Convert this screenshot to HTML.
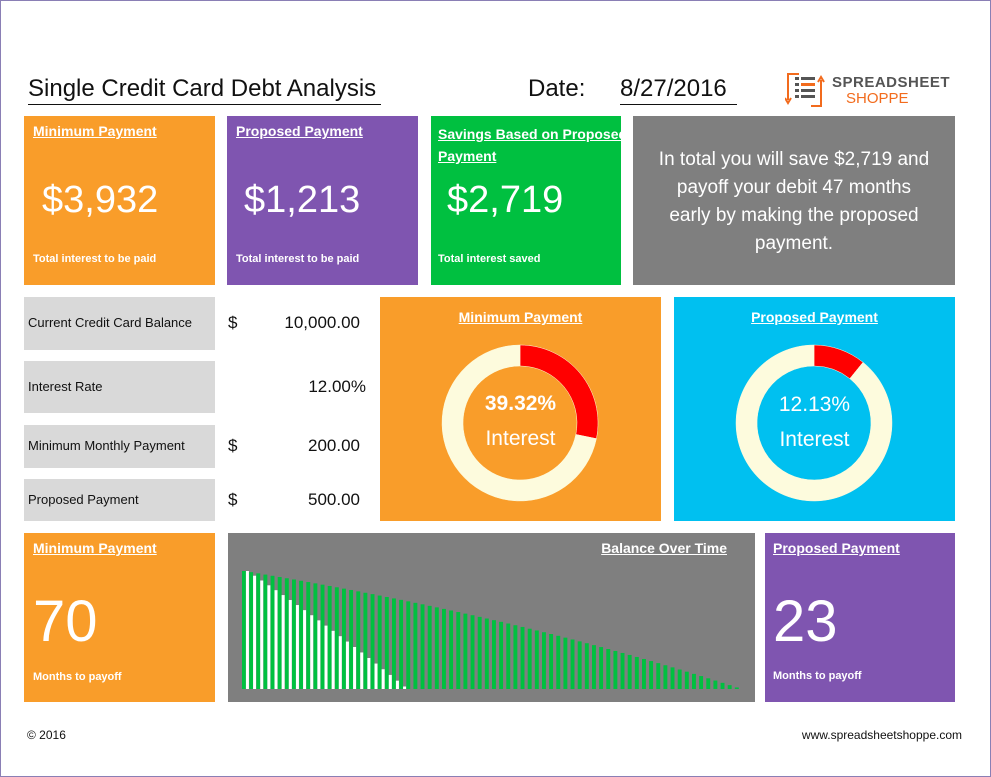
<!DOCTYPE html>
<html><head><meta charset="utf-8"><style>
body{margin:0;width:991px;height:777px;background:#fff;position:relative;overflow:hidden;font-family:"Liberation Sans",sans-serif}
.frame{position:absolute;left:0;top:0;width:989px;height:775px;border:1px solid #8a7fb5}
.b{position:absolute;color:#fff}
.h{font-weight:bold;font-size:14px;text-decoration:underline;position:absolute}
.small{font-weight:bold;font-size:11px;position:absolute}
.big{position:absolute;font-size:38px}
.lbl{position:absolute;left:24px;width:191px;background:#d9d9d9;font-size:13px;color:#111}
.lbl span{position:absolute;left:4px}
.val{position:absolute;font-size:17px;color:#111}
</style></head><body>
<div class="frame"></div>
<div style="position:absolute;left:28px;top:75px;font-size:24px;color:#111;border-bottom:1.5px solid #111;padding-bottom:1px;width:353px">Single Credit Card Debt Analysis</div>
<div style="position:absolute;left:528px;top:75px;font-size:24px;color:#111">Date:</div>
<div style="position:absolute;left:620px;top:75px;font-size:24px;color:#111;border-bottom:1.5px solid #111;padding-bottom:1px;width:117px">8/27/2016</div>
<div style="position:absolute;left:785px;top:72px;width:180px;height:36px">
<svg width="40" height="36" style="position:absolute;left:0;top:0"><path d="M14 2H3V28" stroke="#f26b1d" stroke-width="2" fill="none"/><path d="M26 34H36V8" stroke="#f26b1d" stroke-width="2" fill="none"/><path d="M0 26L3 31L6 26M33 10L36 5L39 10" stroke="#f26b1d" stroke-width="2" fill="none"/><g fill="#555"><rect x="10" y="5" width="4" height="3"/><rect x="16" y="5" width="14" height="3"/><rect x="10" y="11" width="4" height="3"/><rect x="16" y="11" width="14" height="3" fill="#f26b1d"/><rect x="10" y="17" width="4" height="3"/><rect x="16" y="17" width="14" height="3"/><rect x="10" y="23" width="4" height="3"/><rect x="16" y="23" width="14" height="3"/></g></svg>
<div style="position:absolute;left:47px;top:2px;font-size:15px;color:#555;font-weight:bold;letter-spacing:.5px">SPREADSHEET</div>
<div style="position:absolute;left:61px;top:18px;font-size:15px;color:#f26b1d">SHOPPE</div></div>

<div class="b" style="left:24px;top:116px;width:191px;height:169px;background:#f99d2a">
<div class="h" style="left:9px;top:7px">Minimum Payment</div><div class="big" style="left:18px;top:63px">$3,932</div><div class="small" style="left:9px;top:137px">Total interest to be paid</div></div>
<div class="b" style="left:227px;top:116px;width:191px;height:169px;background:#7f55b0">
<div class="h" style="left:9px;top:7px">Proposed Payment</div><div class="big" style="left:17px;top:63px">$1,213</div><div class="small" style="left:9px;top:137px">Total interest to be paid</div></div>
<div class="b" style="left:431px;top:116px;width:190px;height:169px;background:#00c040;overflow:hidden">
<div class="h" style="left:7px;top:7px;width:240px;line-height:22px">Savings Based on Proposed<br>Payment</div><div class="big" style="left:16px;top:63px">$2,719</div><div class="small" style="left:7px;top:137px">Total interest saved</div></div>
<div class="b" style="left:633px;top:116px;width:322px;height:169px;background:#7f7f7f">
<div style="position:absolute;left:0;width:322px;top:30px;text-align:center;font-size:19px;line-height:28px">In total you will save $2,719 and<br>payoff your debit 47 months<br>early by making the proposed<br>payment.</div></div>

<div class="lbl" style="top:297px;height:53px"><span style="top:18px">Current Credit Card Balance</span></div>
<div class="lbl" style="top:361px;height:52px"><span style="top:18px">Interest Rate</span></div>
<div class="lbl" style="top:425px;height:43px"><span style="top:13px">Minimum Monthly Payment</span></div>
<div class="lbl" style="top:479px;height:42px"><span style="top:13px">Proposed Payment</span></div>
<div class="val" style="left:228px;top:313px">$</div>
<div class="val" style="left:280px;top:313px;width:80px;text-align:right">10,000.00</div>
<div class="val" style="left:280px;top:377px;width:86px;text-align:right">12.00%</div>
<div class="val" style="left:228px;top:436px">$</div>
<div class="val" style="left:280px;top:436px;width:80px;text-align:right">200.00</div>
<div class="val" style="left:228px;top:490px">$</div>
<div class="val" style="left:280px;top:490px;width:80px;text-align:right">500.00</div>

<div class="b" style="left:380px;top:297px;width:281px;height:224px;background:#f99d2a">
<div class="h" style="left:0;width:281px;text-align:center;top:12px;text-decoration:none"><span style="text-decoration:underline">Minimum Payment</span></div>
<svg id="d1" width="281" height="224" style="position:absolute;left:0;top:0"></svg>
<div style="position:absolute;left:0;width:281px;top:95px;text-align:center;font-size:21px;font-weight:bold">39.32%</div>
<div style="position:absolute;left:0;width:281px;top:130px;text-align:center;font-size:21px">Interest</div></div>
<div class="b" style="left:674px;top:297px;width:281px;height:224px;background:#00c0f0">
<div class="h" style="left:0;width:281px;text-align:center;top:12px;text-decoration:none"><span style="text-decoration:underline">Proposed Payment</span></div>
<svg id="d2" width="281" height="224" style="position:absolute;left:0;top:0"></svg>
<div style="position:absolute;left:0;width:281px;top:96px;text-align:center;font-size:21px">12.13%</div>
<div style="position:absolute;left:0;width:281px;top:131px;text-align:center;font-size:21px">Interest</div></div>

<div class="b" style="left:24px;top:533px;width:191px;height:169px;background:#f99d2a">
<div class="h" style="left:9px;top:7px">Minimum Payment</div><div style="position:absolute;left:9px;top:55px;font-size:58px">70</div><div class="small" style="left:9px;top:138px">Months to payoff</div></div>
<div class="b" style="left:228px;top:533px;width:527px;height:169px;background:#7f7f7f">
<div class="h" style="right:28px;top:7px">Balance Over Time</div>
<svg id="bars" width="527" height="169" style="position:absolute;left:0;top:0"></svg></div>
<div class="b" style="left:765px;top:533px;width:190px;height:169px;background:#7f55b0">
<div class="h" style="left:8px;top:7px">Proposed Payment</div><div style="position:absolute;left:8px;top:55px;font-size:58px">23</div><div class="small" style="left:8px;top:137px">Months to payoff</div></div>

<div style="position:absolute;left:27px;top:728px;font-size:12px;color:#111">© 2016</div>
<div style="position:absolute;right:29px;top:728px;font-size:12px;color:#111">www.spreadsheetshoppe.com</div>

<script>
const donutLabels=["Interest","Principal"];
const minDonut=[3932,10000];
const propDonut=[1213,10000];
const minBalance=[10000,9900,9799,9697,9594,9490,9385,9279,9171,9063,8954,8843,8732,8619,8505,8390,8274,8157,8039,7919,7798,7676,7553,7428,7303,7176,7047,6918,6787,6655,6522,6387,6251,6113,5974,5834,5692,5549,5405,5259,5111,4962,4812,4660,4507,4352,4195,4037,3878,3717,3554,3389,3223,3055,2886,2715,2542,2367,2191,2013,1833,1651,1468,1283,1095,906,715,523,328,131];
const propBalance=[10000,9600,9196,8788,8376,7960,7540,7116,6684,6252,5816,5372,4928,4476,4020,3560,3096,2628,2156,1676,1192,704,212];
const NS="http://www.w3.org/2000/svg";
function donut(id,vals){
 const svg=document.getElementById(id);const cx=140,cy=126,R=78,r=57;
 const tot=vals[0]+vals[1];let a0=0;
 const cols=["#ff0000","#fdfbdd"];
 vals.forEach((v,i)=>{
  const a1=a0+v/tot*2*Math.PI;
  const p=(a,rad)=>[cx+rad*Math.sin(a),cy-rad*Math.cos(a)];
  const [x1,y1]=p(a0,R),[x2,y2]=p(a1,R),[x3,y3]=p(a1,r),[x4,y4]=p(a0,r);
  const lg=(a1-a0)>Math.PI?1:0;
  const path=document.createElementNS(NS,"path");
  path.setAttribute("d",`M${x1} ${y1}A${R} ${R} 0 ${lg} 1 ${x2} ${y2}L${x3} ${y3}A${r} ${r} 0 ${lg} 0 ${x4} ${y4}Z`);
  path.setAttribute("fill",cols[i]);path.setAttribute("stroke","#fdfbdd");path.setAttribute("stroke-width","0.5");
  
  
  svg.appendChild(path);a0=a1;
 });
}
donut("d1",minDonut);donut("d2",propDonut);
(function(){
 const svg=document.getElementById("bars");
 const x0=14,x1=514,base=156,top=38,maxV=10000;
 const n=minBalance.length,step=(x1-x0)/n;
 const y=v=>base-(v/maxV)*(base-top);
 minBalance.forEach((v,i)=>{
  const r=document.createElementNS(NS,"rect");
  r.setAttribute("x",x0+i*step);r.setAttribute("width",step*0.55);
  r.setAttribute("y",y(v));r.setAttribute("height",base-y(v));r.setAttribute("fill","#00c040");
  
  
  svg.appendChild(r);
 });
 propBalance.forEach((v,i)=>{
  const r=document.createElementNS(NS,"rect");
  r.setAttribute("x",x0+i*step+step*0.55);r.setAttribute("width",step*0.42);
  r.setAttribute("y",y(v));r.setAttribute("height",base-y(v));r.setAttribute("fill","#ffffff");
  
  
  svg.appendChild(r);
 });
})();
</script>
</body></html>
